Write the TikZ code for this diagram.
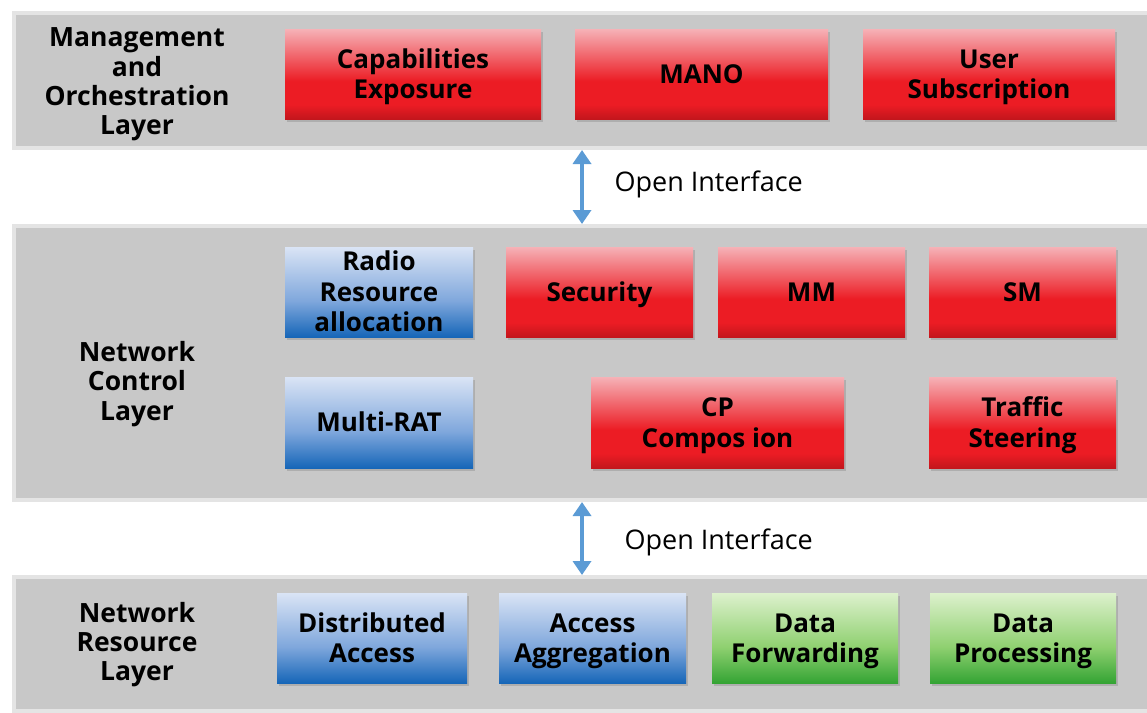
\documentclass[tikz,border=0pt]{standalone}
\usepackage{fontspec}
\setmainfont{Open Sans}
\usetikzlibrary{arrows.meta,shadows}

\definecolor{bandgray}{HTML}{C8C8C8}
\definecolor{bandedge}{HTML}{E4E4E4}
\definecolor{arrowblue}{HTML}{5B9BD5}
\definecolor{redD}{HTML}{C3161C}
\definecolor{redM}{HTML}{EC1C24}
\definecolor{redL}{HTML}{F6B2B7}
\definecolor{blueD}{HTML}{1666B8}
\definecolor{blueM}{HTML}{7FA7DC}
\definecolor{blueL}{HTML}{DAE4F5}
\definecolor{greenD}{HTML}{34A434}
\definecolor{greenM}{HTML}{8FD070}
\definecolor{greenL}{HTML}{DDF1CD}

% vertical fills: 25bp = bottom edge, 75bp = top edge of the shaded box
\pgfdeclareverticalshading{redfill}{100bp}{color(0bp)=(redD); color(25bp)=(redD); color(33bp)=(redM); color(46bp)=(redM); color(75bp)=(redL); color(100bp)=(redL)}
\pgfdeclareverticalshading{bluefill}{100bp}{color(0bp)=(blueD); color(25bp)=(blueD); color(45bp)=(blueM); color(75bp)=(blueL); color(100bp)=(blueL)}
\pgfdeclareverticalshading{greenfill}{100bp}{color(0bp)=(greenD); color(25bp)=(greenD); color(45bp)=(greenM); color(75bp)=(greenL); color(100bp)=(greenL)}

% struts that centre the capital letters of a text block;
% the last line is smashed so descenders do not lift the block
\newcommand{\capstop}{\rule{0pt}{21pt}}
\newcommand{\lastline}[1]{\smash{#1}\rule[-2.5pt]{0pt}{2.5pt}}

\tikzset{
  band/.style={draw=bandedge, line width=4pt, fill=bandgray, rectangle,
    drop shadow={shadow xshift=1pt, shadow yshift=-2pt, opacity=0.25}},
  fnbox/.style={rectangle, align=center, inner sep=0pt,
    font=\fontsize{26}{30.5}\selectfont\bfseries,
    drop shadow={shadow xshift=2pt, shadow yshift=-2.5pt, opacity=0.35}},
  redbox/.style={fnbox, shading=redfill},
  bluebox/.style={fnbox, shading=bluefill},
  greenbox/.style={fnbox, shading=greenfill},
  layerlabel/.style={align=center, font=\fontsize{26.5}{29.3}\selectfont\bfseries},
  iflabel/.style={anchor=west, font=\fontsize{27}{30}\selectfont},
  biarrow/.style={draw=arrowblue, line width=4.5pt,
    {Triangle[width=18pt,length=14pt]}-{Triangle[width=18pt,length=14pt]}}
}

\begin{document}
\begin{tikzpicture}[x=1pt, y=-1pt]
\useasboundingbox (0,0) rectangle (1147,712);
\clip (0,0) rectangle (1147,712);
\fill[white] (0,0) rectangle (1147,712);

% layer bands
\node[band, anchor=north west, minimum width=1148pt, minimum height=135pt] (mgmt) at (12,11) {};
\node[band, anchor=north west, minimum width=1148pt, minimum height=274pt] (ctrl) at (12,224) {};
\node[band, anchor=north west, minimum width=1148pt, minimum height=134pt] (res) at (12,575) {};

% layer names
\node[layerlabel] (mgmtlbl) at (137,84.5) {Management\\and\\Orchestration\\Layer};
\node[layerlabel] (ctrllbl) at (137,384) {Network\\Control\\Layer};
\node[layerlabel] (reslbl) at (137,644.5) {Network\\Resource\\Layer};

% management and orchestration functions
\node[redbox, minimum width=256pt, minimum height=90pt] (capexp) at (413,74) {\capstop Capabilities\\\lastline{Exposure}};
\node[redbox, minimum width=253pt, minimum height=90pt] (mano) at (701.5,74) {\capstop\lastline{MANO}};
\node[redbox, minimum width=252pt, minimum height=90pt] (usersub) at (989,74) {\capstop User\\\lastline{Subscription}};

% network control functions
\node[bluebox, minimum width=188pt, minimum height=90pt] (rra) at (379,292) {\capstop Radio\\Resource\\\lastline{allocation}};
\node[redbox, minimum width=187pt, minimum height=90pt] (sec) at (599.5,292) {\capstop\lastline{Security}};
\node[redbox, minimum width=187pt, minimum height=90pt] (mm) at (811.5,292) {\capstop\lastline{MM}};
\node[redbox, minimum width=187pt, minimum height=90pt] (sm) at (1022.5,292) {\capstop\lastline{SM}};
\node[bluebox, minimum width=188pt, minimum height=91pt] (mrat) at (379,422.5) {\capstop\lastline{Multi-RAT}};
\node[redbox, minimum width=253pt, minimum height=91pt] (cpc) at (717.5,422.5) {\capstop CP\\\lastline{Compos ion}};
\node[redbox, minimum width=187pt, minimum height=91pt] (ts) at (1022.5,422.5) {\capstop Traffic\\\lastline{Steering}};

% network resource functions
\node[bluebox, minimum width=190pt, minimum height=90pt] (dacc) at (372,638) {\capstop Distributed\\\lastline{Access}};
\node[bluebox, minimum width=187pt, minimum height=90pt] (aagg) at (592.5,638) {\capstop Access\\\lastline{Aggregation}};
\node[greenbox, minimum width=186pt, minimum height=90pt] (dfwd) at (805,638) {\capstop Data\\\lastline{Forwarding}};
\node[greenbox, minimum width=186pt, minimum height=90pt] (dproc) at (1023,638) {\capstop Data\\\lastline{Processing}};

% open interfaces between layers
\coordinate (ax) at (582,0);
\draw[biarrow] (mgmt.south -| ax) -- (ctrl.north -| ax);
\draw[biarrow] (ctrl.south -| ax) -- (res.north -| ax);
\node[iflabel] (if1) at (611,184) {Open Interface};
\node[iflabel] (if2) at (621,542) {Open Interface};
\end{tikzpicture}
\end{document}
